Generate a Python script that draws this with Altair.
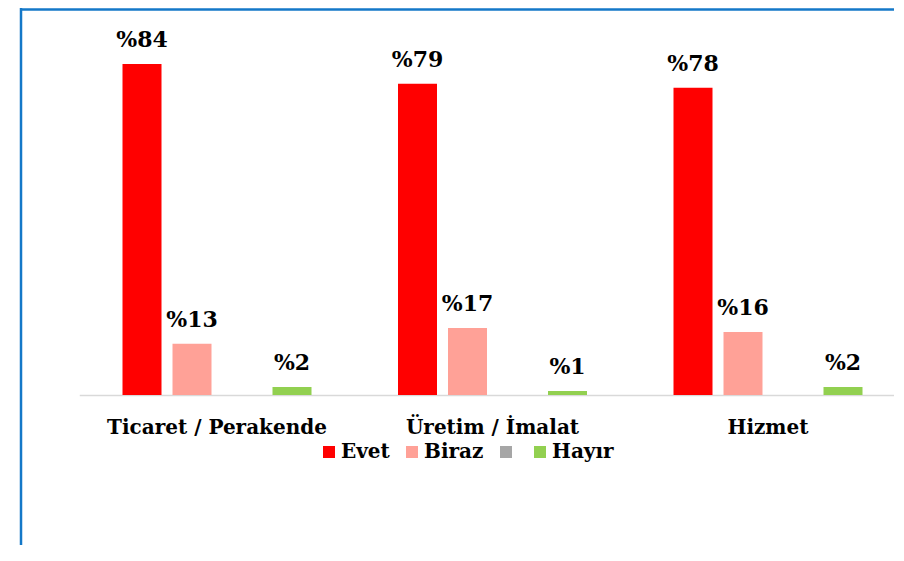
import altair as alt
import pandas as pd

sectors = ["Ticaret / Perakende", "Üretim / İmalat", "Hizmet"]
answers = ["Evet", "Biraz", "Bilmiyorum", "Hayır"]
colors = ["#ff0000", "#ffa197", "#a6a6a6", "#92d050"]
evet = [84, 79, 78]
biraz = [13, 17, 16]
hayir = [2, 1, 2]

rows = []
for i, s in enumerate(sectors):
    rows.append({"sector": s, "answer": "Evet", "value": evet[i]})
    rows.append({"sector": s, "answer": "Biraz", "value": biraz[i]})
    rows.append({"sector": s, "answer": "Hayır", "value": hayir[i]})
df = pd.DataFrame(rows)

FONT = "DejaVu Serif"

base = alt.Chart(df).encode(
    x=alt.X(
        "sector:N",
        sort=sectors,
        title=None,
        scale=alt.Scale(range=[71.25, 897.75], paddingInner=0, paddingOuter=0),
        axis=alt.Axis(
            labelFont=FONT, labelFontSize=20, labelFontWeight="bold", labelColor="black",
            labelAngle=0, labelBaseline="alphabetic", labelPadding=38, ticks=False, tickSize=0,
            domainColor="#d9d9d9", domainWidth=1.5, labelLimit=0, labelOverlap=False, grid=False,
        ),
    ),
    xOffset=alt.XOffset(
        "answer:N", sort=answers,
        scale=alt.Scale(domain=answers, paddingInner=0.22, paddingOuter=0.865),
    ),
    y=alt.Y("value:Q", scale=alt.Scale(domain=[0, 95.17]), axis=None),
)

bars = base.mark_bar().encode(
    color=alt.Color(
        "answer:N",
        scale=alt.Scale(domain=answers, range=colors),
        legend=alt.Legend(
            orient="none", legendX=311, legendY=422, direction="horizontal", title=None,
            symbolType="square", symbolSize=144, symbolStrokeWidth=0,
            labelFont=FONT, labelFontSize=20, labelFontWeight="bold", labelColor="black",
            labelOffset=2, columnPadding=12, padding=0, labelLimit=0,
            labelExpr="datum.label == 'Bilmiyorum' ? '' : datum.label",
        ),
    )
)

labels = base.mark_text(
    baseline="alphabetic", dy=-17, font=FONT, fontWeight="bold", fontSize=22, color="black"
).encode(text="label:N").transform_calculate(label="'%' + datum.value")

frame_data = alt.Data(values=[{}])
left_line = alt.Chart(frame_data).mark_rule(color="#1478c8", strokeWidth=2.5).encode(
    x=alt.value(13), y=alt.value(-12), y2=alt.value(530)
)
top_line = alt.Chart(frame_data).mark_rule(color="#1478c8", strokeWidth=2.5).encode(
    x=alt.value(12), x2=alt.value(890), y=alt.value(-10.5)
)

chart = alt.layer(bars, labels, left_line, top_line).properties(
    width=886, height=375,
    padding={"left": 0, "top": 12, "right": 0, "bottom": 150},
    autosize="none",
).configure_view(stroke=None)

chart.save("out.html", embed_options={"renderer": "svg", "actions": False})
